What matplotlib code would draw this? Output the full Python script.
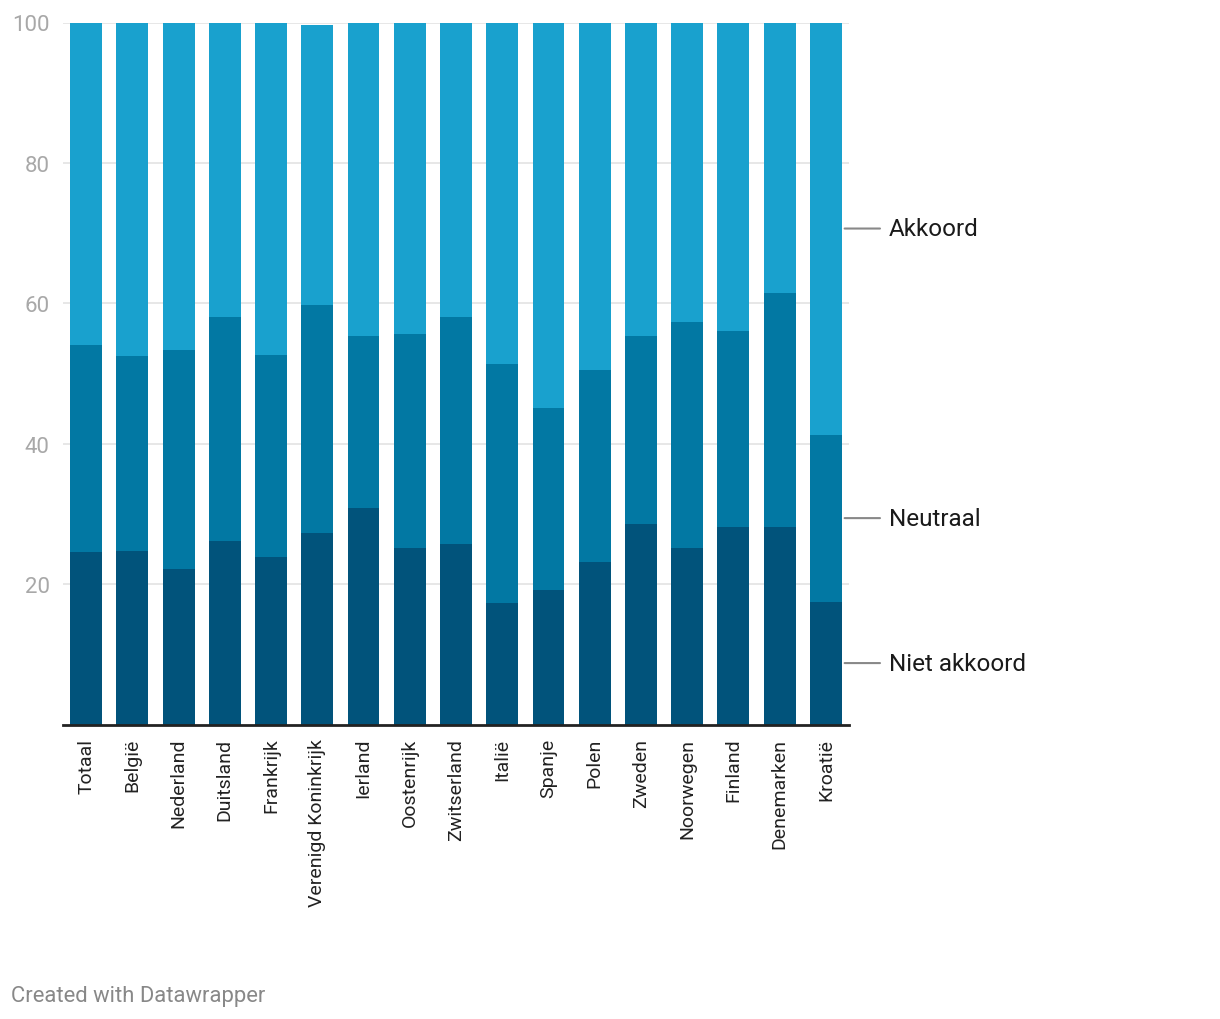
import matplotlib.pyplot as plt
import numpy as np

plt.rcParams['font.family'] = ['Roboto', 'DejaVu Sans']

# Data (percentages)
landen = ["Totaal", "België", "Nederland", "Duitsland", "Frankrijk",
          "Verenigd Koninkrijk", "Ierland", "Oostenrijk", "Zwitserland",
          "Italië", "Spanje", "Polen", "Zweden", "Noorwegen", "Finland",
          "Denemarken", "Kroatië"]
niet_akkoord = [24.6, 24.7, 22.2, 26.2, 23.8, 27.3, 30.8, 25.2, 25.7,
                17.3, 19.2, 23.2, 28.6, 25.2, 28.2, 28.2, 17.5]
neutraal = [29.4, 27.8, 31.1, 31.8, 28.9, 32.4, 24.6, 30.4, 32.3,
            34.1, 25.9, 27.3, 26.7, 32.1, 27.9, 33.3, 23.8]
akkoord = [46.0, 47.5, 46.7, 42.0, 47.3, 40.0, 44.6, 44.4, 42.0,
           48.6, 55.0, 49.6, 44.7, 42.7, 43.9, 38.5, 58.7]
reeksen = ["Niet akkoord", "Neutraal", "Akkoord"]
kleuren = ["#01537b", "#0278a3", "#19a1ce"]
y_ticks = [20, 40, 60, 80, 100]

fig = plt.figure(figsize=(12.2, 10.2), dpi=100)
ax = fig.add_axes([63 / 1220, 1 - 725.5 / 1020, (849 - 63) / 1220, (725.5 - 23.5) / 1020])

x = np.arange(len(landen))
bottom = np.zeros(len(landen))
for naam, waarden, kleur in zip(reeksen, [niet_akkoord, neutraal, akkoord], kleuren):
    ax.bar(x, waarden, bottom=bottom, width=0.69, color=kleur, zorder=2, linewidth=0)
    bottom += np.array(waarden)

ax.set_xlim(-0.5, len(landen) - 0.5)
ax.set_ylim(0, 100)
ax.set_yticks(y_ticks)
ax.set_yticklabels([str(t) for t in y_ticks], fontsize=16, color="#a8a8a8")
ax.yaxis.grid(True, color="#e5e5e5", linewidth=1.3, zorder=0)
ax.tick_params(axis="y", length=0, pad=9.5)
ax.set_xticks(x)
ax.set_xticklabels(landen, rotation=90, fontsize=14, color="#222222", va="top")
ax.tick_params(axis="x", length=0, pad=9.5)

for s in ["top", "right", "left"]:
    ax.spines[s].set_visible(False)
ax.spines["bottom"].set_color("#222222")
ax.spines["bottom"].set_linewidth(2)
ax.spines["bottom"].set_zorder(3)

# direct labels at the middle of the last bar's segments
laatste = len(landen) - 1
onder = 0
for naam, waarden in zip(reeksen, [niet_akkoord, neutraal, akkoord]):
    midden = onder + waarden[laatste] / 2
    onder += waarden[laatste]
    ax.annotate("", xy=(laatste + 0.345, midden), xycoords="data",
                xytext=(laatste + 0.345 + 41 / 46.3, midden), textcoords="data",
                arrowprops=dict(arrowstyle="-", color="#888888", lw=1.5),
                annotation_clip=False)
    ax.text(laatste + 0.345 + 47 / 46.3, midden, naam, fontsize=17.5,
            color="#1a1a1a", va="center", ha="left", clip_on=False)

fig.text(11 / 1220, 1 - 997 / 1020, "Created with Datawrapper", fontsize=15.8,
         color="#888888", va="center", ha="left")

fig.savefig("out.png", dpi=100)
